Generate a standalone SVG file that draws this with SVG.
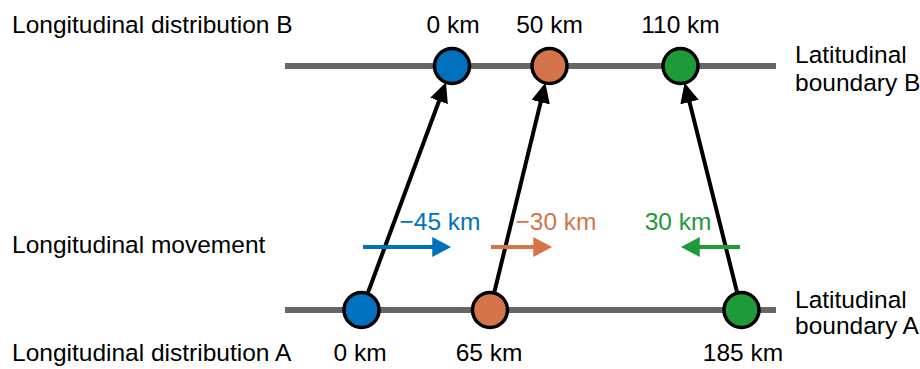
<svg xmlns="http://www.w3.org/2000/svg" width="920" height="369" viewBox="0 0 920 369">
<style>
text{font-family:"Liberation Sans",Arial,sans-serif;font-size:24.5px;fill:#000}
.c{text-anchor:middle}
.bound{stroke:#666;stroke-width:6}
.dot{stroke:#000;stroke-width:3.5}
.conn{stroke:#000;stroke-width:4;fill:none}
.mv{stroke-width:4;fill:none}
</style>
<defs>
<marker id="ah" markerUnits="userSpaceOnUse" markerWidth="20" markerHeight="20" viewBox="0 0 17 16" refX="7" refY="8" orient="auto"><path d="M0,0 L17,8 L0,16 z" fill="#000"/></marker>
<marker id="ahb" markerUnits="userSpaceOnUse" markerWidth="20" markerHeight="20" viewBox="0 0 17 18" refX="7" refY="9" orient="auto"><path d="M0,0 L17,9 L0,18 z" fill="#0071BC"/></marker>
<marker id="aho" markerUnits="userSpaceOnUse" markerWidth="20" markerHeight="20" viewBox="0 0 17 18" refX="7" refY="9" orient="auto"><path d="M0,0 L17,9 L0,18 z" fill="#D5744A"/></marker>
<marker id="ahg" markerUnits="userSpaceOnUse" markerWidth="20" markerHeight="20" viewBox="0 0 17 18" refX="7" refY="9" orient="auto"><path d="M0,0 L17,9 L0,18 z" fill="#1F9A38"/></marker>
</defs>
<g id="labels-left">
<text x="12" y="33">Longitudinal distribution B</text>
<text x="12" y="253">Longitudinal movement</text>
<text x="12" y="361">Longitudinal distribution A</text>
</g>
<g id="boundary-B">
<line class="bound" x1="285" y1="66" x2="776" y2="66"/>
<text x="795" y="63">Latitudinal</text>
<text x="795" y="91">boundary B</text>
</g>
<g id="boundary-A">
<line class="bound" x1="285" y1="310" x2="776" y2="310"/>
<text x="795" y="308">Latitudinal</text>
<text x="795" y="334">boundary A</text>
</g>
<g id="connectors">
<line class="conn" x1="368.1" y1="292.2" x2="441.9" y2="93.2" marker-end="url(#ah)"/>
<line class="conn" x1="494.5" y1="291.5" x2="542.6" y2="94.2" marker-end="url(#ah)"/>
<line class="conn" x1="736.9" y1="291.6" x2="687.5" y2="94.1" marker-end="url(#ah)"/>
<line class="mv" stroke="#0071BC" x1="363" y1="247" x2="440" y2="247" marker-end="url(#ahb)"/>
<line class="mv" stroke="#D5744A" x1="491" y1="247" x2="541" y2="247" marker-end="url(#aho)"/>
<line class="mv" stroke="#1F9A38" x1="740" y1="247" x2="692" y2="247" marker-end="url(#ahg)"/>
</g>
<g id="movement-labels">
<text class="c" x="440" y="230" style="fill:#0071BC">−45 km</text>
<text class="c" x="556" y="230" style="fill:#D5744A">−30 km</text>
<text class="c" x="678" y="230" style="fill:#1F9A38">30 km</text>
</g>
<g id="B-blue"><circle class="dot" cx="452" cy="66" r="17.5" fill="#0071BC"/><text class="c" x="453" y="33">0 km</text></g>
<g id="B-orange"><circle class="dot" cx="549.5" cy="66" r="17.5" fill="#D5744A"/><text class="c" x="549.5" y="33">50 km</text></g>
<g id="B-green"><circle class="dot" cx="680.5" cy="66" r="17.5" fill="#1F9A38"/><text class="c" x="680.5" y="33">110 km</text></g>
<g id="A-blue"><circle class="dot" cx="361.5" cy="310" r="17.5" fill="#0071BC"/><text class="c" x="360" y="361">0 km</text></g>
<g id="A-orange"><circle class="dot" cx="490" cy="310" r="17.5" fill="#D5744A"/><text class="c" x="489" y="361">65 km</text></g>
<g id="A-green"><circle class="dot" cx="741.5" cy="310" r="17.5" fill="#1F9A38"/><text class="c" x="743" y="361">185 km</text></g>
</svg>
